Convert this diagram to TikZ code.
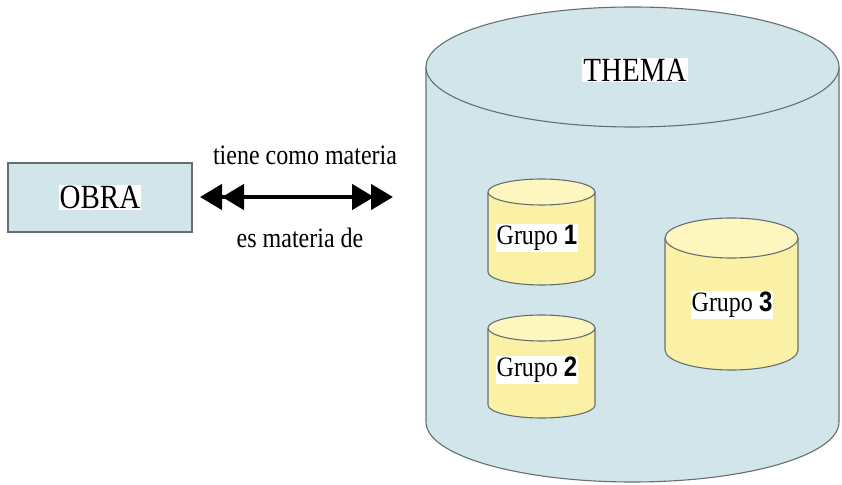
\documentclass[tikz,border=0pt]{standalone}
\usepackage{fontspec}
\setmainfont{Liberation Serif}
\newfontfamily\numfont{Liberation Sans}
\usetikzlibrary{arrows.meta}
\definecolor{cylblue}{HTML}{D2E5EB}
\definecolor{cylyel}{HTML}{FAF1A6}
\definecolor{cyltop}{HTML}{FDF6BE}
\definecolor{edgegray}{HTML}{656F72}
\newcommand{\tallt}[1]{\scalebox{1}[1.17]{#1}}
\newcommand{\mycyl}[7]{%
  \fill[#6] (#1-#4,#2) -- (#1-#4,#3) arc[start angle=180,end angle=360,x radius=#4,y radius=#5] -- (#1+#4,#2) -- cycle;
  \draw[edgeline] (#1-#4,#2) -- (#1-#4,#3) arc[start angle=180,end angle=360,x radius=#4,y radius=#5] -- (#1+#4,#2);
  \draw[edgeline,fill=#7] (#1,#2) ellipse[x radius=#4,y radius=#5];
}
\begin{document}
\begin{tikzpicture}[x=1pt,y=1pt,
  edgeline/.style={draw=edgegray,line width=1.1pt},
  lbl/.style={fill=white,inner sep=1pt,font=\fontsize{24}{26}\selectfont},
  biglbl/.style={fill=white,inner sep=1pt,font=\fontsize{29}{31}\selectfont},
  obrabox/.style={draw=edgegray,line width=1.1pt,fill=cylblue,minimum width=184pt,minimum height=69pt,inner sep=0pt},
  link/.style={line width=4.5pt,{Triangle[length=22pt,width=25pt,sep=-3pt]Triangle[length=22pt,width=25pt]}-{Triangle[length=22pt,width=25pt,sep=-3pt]Triangle[length=22pt,width=25pt]}}
]
\useasboundingbox (0,0) rectangle (842,484);
% big cylinder THEMA
\mycyl{632.5}{417}{62}{206.5}{60}{cylblue}{cylblue}
% small cylinders
\mycyl{541.5}{292}{212}{53.5}{13}{cylyel}{cyltop}
\mycyl{541.5}{156}{79}{53.5}{13}{cylyel}{cyltop}
\mycyl{731.5}{246}{134}{66.5}{20}{cylyel}{cyltop}
% labels
\node[biglbl] (thema) at (635,414) {\tallt{THEMA}};
\node[lbl] (g1) at (537,246) {\tallt{Grupo {\numfont\bfseries 1}}};
\node[lbl] (g2) at (537,114) {\tallt{Grupo {\numfont\bfseries 2}}};
\node[lbl] (g3) at (732,179) {\tallt{Grupo {\numfont\bfseries 3}}};
% OBRA
\node[obrabox] (obra) at (100,286.5) {};
\node[biglbl] (obratext) at (obra.center) {\tallt{OBRA}};
% arrow
\coordinate (al) at (203,287);
\coordinate (ar) at (393,287);
\draw[link] (al) -- (ar);
\node[lbl] (t1) at (305,329) {\tallt{tiene como materia}};
\node[lbl,fill=none] (t2) at (300,246) {\tallt{es materia de}};
\end{tikzpicture}
\end{document}
